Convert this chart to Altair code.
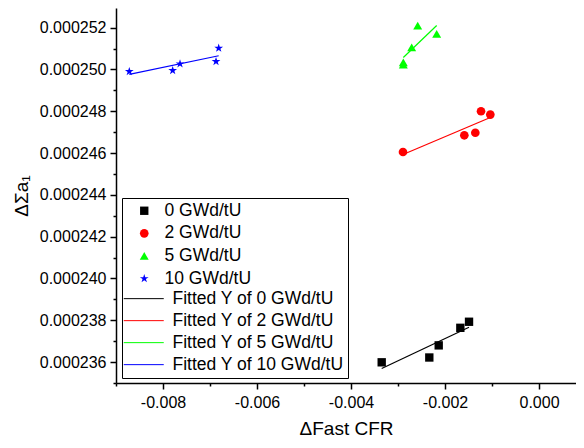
import altair as alt
import pandas as pd

series = ["0 GWd/tU", "2 GWd/tU", "5 GWd/tU", "10 GWd/tU"]
fit_labels = ["Fitted Y of 0 GWd/tU", "Fitted Y of 2 GWd/tU",
              "Fitted Y of 5 GWd/tU", "Fitted Y of 10 GWd/tU"]

x_0 = [-0.003347, -0.002334, -0.002134, -0.001674, -0.001489]
y_0 = [0.00023599, 0.00023622, 0.00023680, 0.00023764, 0.00023793]
x_2 = [-0.002894, -0.001589, -0.001355, -0.001234, -0.001036]
y_2 = [0.00024605, 0.00024685, 0.00024697, 0.00024800, 0.00024784]
x_5 = [-0.002887, -0.002887, -0.002709, -0.002581, -0.002177]
y_5 = [0.00025023, 0.00025034, 0.00025106, 0.00025210, 0.00025170]
x_10 = [-0.008717, -0.007794, -0.007638, -0.006872, -0.006815]
y_10 = [0.00024990, 0.00024995, 0.00025027, 0.00025038, 0.00025102]

x_ticks = [-0.009, -0.008, -0.007, -0.006, -0.005, -0.004, -0.003,
           -0.002, -0.001, 0.0]
y_ticks = [0.000235, 0.000236, 0.000237, 0.000238, 0.000239, 0.00024,
           0.000241, 0.000242, 0.000243, 0.000244, 0.000245, 0.000246,
           0.000247, 0.000248, 0.000249, 0.00025, 0.000251, 0.000252]

colors = ["#000000", "#ff0000", "#00ff00", "#0000ff"]
star = ("M0,-1L0.2245,-0.309L0.951,-0.309L0.363,0.118L0.588,0.809L0,0.382"
        "L-0.588,0.809L-0.363,0.118L-0.951,-0.309L-0.2245,-0.309Z")
shapes = ["square", "circle", "triangle-up", star]
sizes = [70, 85, 110, 160]

rows = []
for s, f, xs, ys in zip(series, fit_labels, [x_0, x_2, x_5, x_10], [y_0, y_2, y_5, y_10]):
    for xv, yv in zip(xs, ys):
        rows.append({"series": s, "fit": f, "x": xv, "y": yv})
df = pd.DataFrame(rows)

FONT = "Liberation Sans"
LFS = 17.5

point_legend = alt.Legend(
    title=None, orient="none", legendX=19.5, legendY=194,
    padding=0, labelFont=FONT, labelFontSize=LFS, labelColor="black",
    labelLimit=0, rowPadding=3.6, labelOffset=11.5, symbolSize=80,
    symbolOpacity=1, symbolStrokeWidth=0, zindex=2,
)
line_legend = alt.Legend(
    title=[" ", " ", " ", " "], titleFontSize=LFS, titleLineHeight=21.8,
    titlePadding=5, orient="none", legendX=6, legendY=190,
    strokeColor="black", padding=4, labelFont=FONT, labelFontSize=LFS,
    labelColor="black", labelLimit=0, rowPadding=3.0, labelOffset=20,
    symbolType="M-4,0L4,0", symbolSize=100, symbolStrokeWidth=1,
    symbolOffset=9, symbolOpacity=1, zindex=1,
)

x_enc = alt.X(
    "x:Q",
    scale=alt.Scale(domain=[-0.009, 0.000787], nice=False, zero=False),
    axis=alt.Axis(
        title="ΔFast CFR", values=x_ticks, grid=False,
        labelExpr="round(datum.value*1000) % 2 === 0 ? replace(format(datum.value, '.3f'), '\u2212', '-') : ''",
        tickSize={"condition": {"test": "round(datum.value*1000) % 2 === 0", "value": 6}, "value": 3},
        labelOverlap=False, labelFlush=False, labelPadding=5,
        titlePadding=9,
    ),
)
y_enc = alt.Y(
    "y:Q",
    scale=alt.Scale(domain=[0.000235, 0.00025294], nice=False, zero=False),
    axis=alt.Axis(
        title="ΔΣa₁", values=y_ticks, grid=False, format=".6f",
        labelExpr="abs(round(datum.value*1000000) % 2) < 0.5 ? datum.label : ''",
        tickSize={"condition": {"test": "abs(round(datum.value*1000000) % 2) < 0.5", "value": 6}, "value": 3},
        labelOverlap=False, labelFlush=False, labelPadding=4, titlePadding=8,
    ),
)

points = alt.Chart(df).mark_point(filled=True, opacity=1).encode(
    x=x_enc,
    y=y_enc,
    color=alt.Color("series:N", scale=alt.Scale(domain=series, range=colors), legend=point_legend),
    shape=alt.Shape("series:N", scale=alt.Scale(domain=series, range=shapes), legend=point_legend),
    size=alt.Size("series:N", scale=alt.Scale(domain=series, range=sizes), legend=None),
)

fits = alt.Chart(df).transform_regression(
    "x", "y", groupby=["fit"], method="linear"
).mark_line(strokeWidth=1.2).encode(
    x=x_enc,
    y=y_enc,
    stroke=alt.Stroke("fit:N", scale=alt.Scale(domain=fit_labels, range=colors), legend=line_legend),
)

chart = alt.layer(points, fits).properties(
    width=460, height=375,
    autosize=alt.AutoSizeParams(type="none"),
    padding={"left": 108, "top": 0, "right": 0, "bottom": 57},
).configure_view(stroke=None).configure_axis(
    domainColor="black", domainWidth=1.5, tickColor="black", tickWidth=1.5,
    labelColor="black", labelFont=FONT, labelFontSize=16,
    titleFont=FONT, titleFontSize=19, titleFontWeight="normal",
    titleColor="black",
)

chart.save("out.html", embed_options={"renderer": "svg", "actions": False})
